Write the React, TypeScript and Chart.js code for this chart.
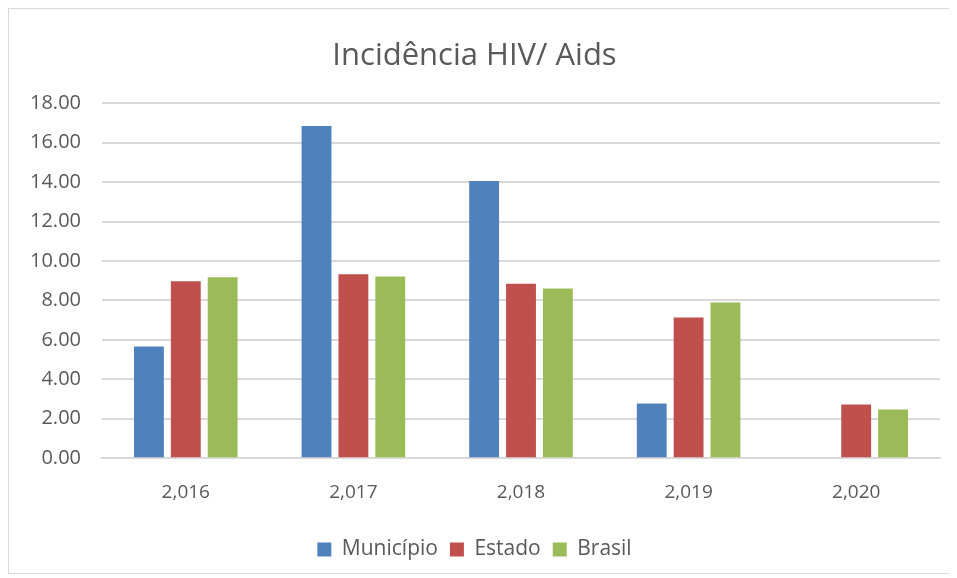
import React, { useEffect, useRef } from "react";
import { Chart, registerables } from "chart.js";

Chart.register(...registerables);

const categories = ["2,016", "2,017", "2,018", "2,019", "2,020"];
const municipio = [5.67, 16.85, 14.05, 2.77, 0];
const estado = [8.97, 9.33, 8.85, 7.14, 2.72];
const brasil = [9.17, 9.21, 8.6, 7.9, 2.47];
const seriesNames = ["Município", "Estado", "Brasil"];
const seriesColors = ["#4f81bd", "#c0504d", "#9bbb59"];

const FONT = "'Open Sans', 'Noto Sans', sans-serif";

export default function App() {
  const ref = useRef<HTMLCanvasElement | null>(null);
  useEffect(() => {
    if (!ref.current) return;
    const chart = new Chart(ref.current, {
      type: "bar",
      data: {
        labels: categories,
        datasets: [municipio, estado, brasil].map((d, i) => ({
          label: seriesNames[i],
          data: d,
          backgroundColor: seriesColors[i],
          borderWidth: 0,
          barPercentage: 0.81,
          categoryPercentage: 0.66,
        })),
      },
      options: {
        animation: false,
        responsive: false,
        maintainAspectRatio: false,
        layout: { padding: { left: 0, right: 12, top: 14, bottom: 3 } },
        plugins: {
          title: {
            display: true,
            text: "Incidência HIV/ Aids",
            color: "#595959",
            font: { family: FONT, size: 31, weight: "normal" },
            padding: { top: 15, bottom: 28 },
          },
          legend: {
            position: "bottom",
            labels: {
              color: "#595959",
              font: { family: FONT, size: 21 },
              boxWidth: 14,
              boxHeight: 14,
              padding: 12,
            },
          },
          tooltip: { enabled: false },
        },
        scales: {
          x: {
            grid: { display: false, drawTicks: false },
            border: { color: "#d9d9d9", width: 2 },
            ticks: {
              color: "#595959",
              font: { family: FONT, size: 19 },
              padding: 23,
            },
          },
          y: {
            min: 0,
            max: 18,
            grid: { color: "#d9d9d9", lineWidth: 2, drawTicks: false },
            border: { display: false },
            ticks: {
              stepSize: 2,
              color: "#595959",
              font: { family: FONT, size: 20 },
              padding: 21,
              callback: (v: any) => Number(v).toFixed(2),
            },
          },
        },
      },
    });
    return () => chart.destroy();
  }, []);
  return (
    <div
      style={{
        width: 945,
        height: 566,
        border: "1px solid #d9d9d9",
        boxSizing: "border-box",
        background: "#fff",
      }}
    >
      <canvas ref={ref} width={943} height={564} style={{ display: "block" }} />
    </div>
  );
}
